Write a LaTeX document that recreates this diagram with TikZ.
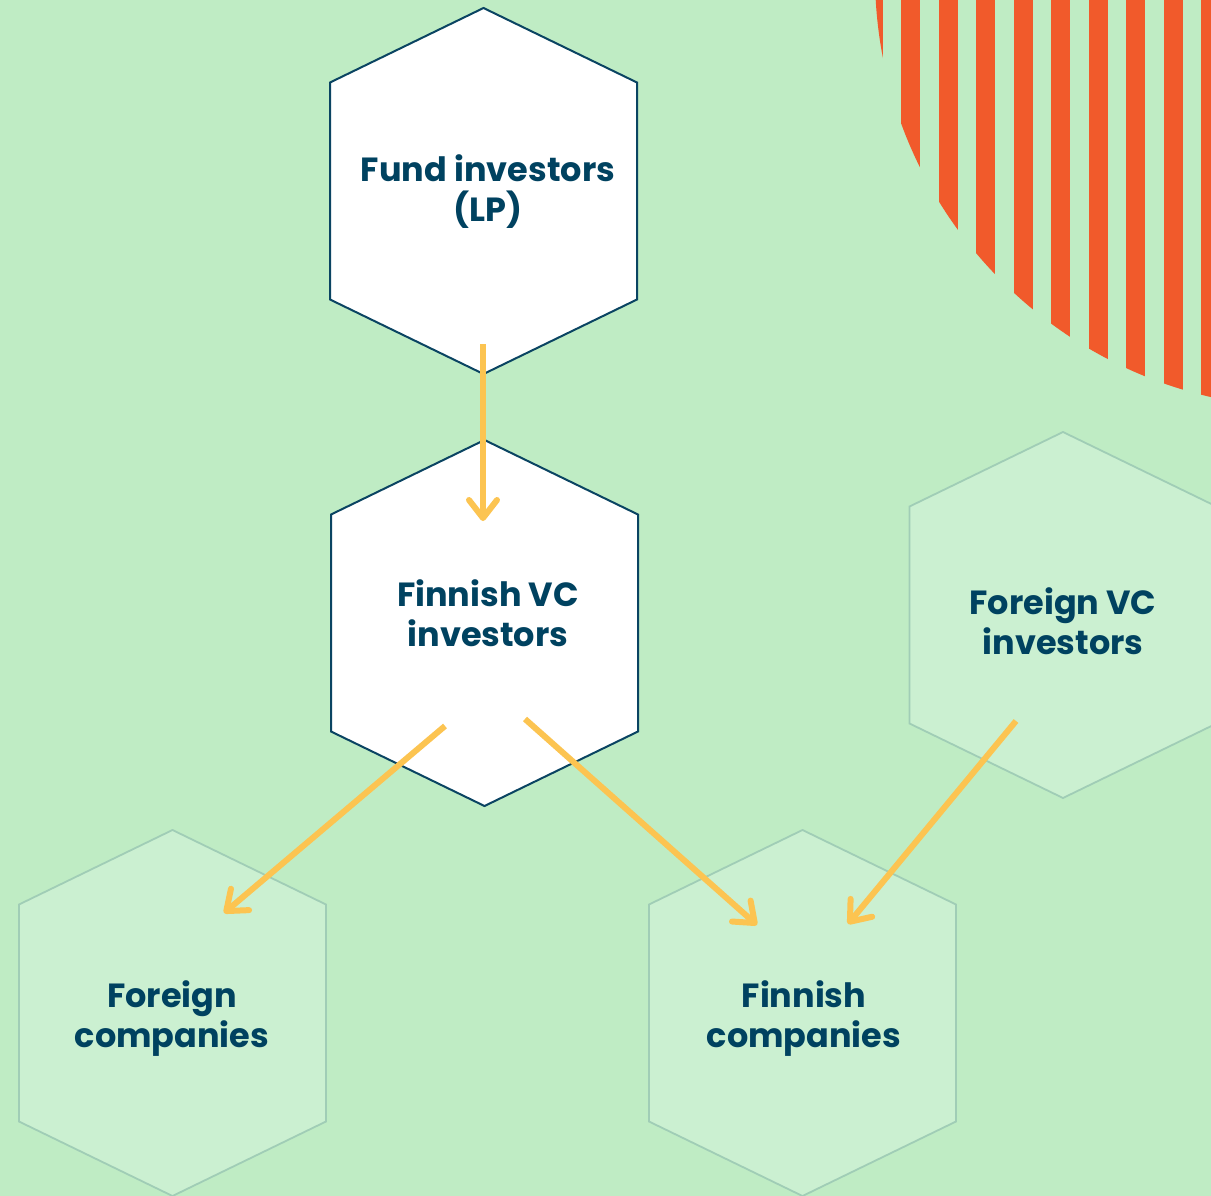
\documentclass[tikz,border=0pt]{standalone}
\usepackage{fontspec}
\setmainfont{Poppins}
\usetikzlibrary{arrows.meta}
\definecolor{bgc}{RGB}{191,236,196}
\definecolor{hexlight}{RGB}{203,240,209}
\definecolor{hexlborder}{RGB}{160,205,182}
\definecolor{hexborder}{RGB}{10,68,98}
\definecolor{txt}{RGB}{0,66,96}
\definecolor{orangec}{RGB}{241,90,43}
\definecolor{arrowc}{RGB}{252,196,81}
\newcommand\myhex[3]{\draw[#1] (#2,#3) -- ++(153.5,74.5) -- ++(0,217) -- ++(-153.5,74.5) -- ++(-153.5,-74.5) -- ++(0,-217) -- cycle;}
\begin{document}
\begin{tikzpicture}[x=1pt,y=-1pt,
  hexw/.style={fill=white,draw=hexborder,line width=2pt,line join=miter},
  hexl/.style={fill=hexlight,draw=hexlborder,line width=1.8pt,line join=miter},
  lbl/.style={align=center,text=txt,inner sep=0pt,font=\fontsize{33.5}{40}\selectfont\bfseries},
  flow/.style={draw=arrowc,line width=6pt,-{Straight Barb[length=18pt,width=28pt,round]}}]
\useasboundingbox (0,0) rectangle (1211,1196);
\clip (0,0) rectangle (1211,1196);
\fill[bgc] (0,0) rectangle (1211,1196);
% striped quarter disc
\begin{scope}
  \clip (1308,-25) circle (433);
  \foreach \i in {0,...,9} \fill[orangec] ({863.5+37.5*\i},-5) rectangle ++(19,440);
\end{scope}
% hexagons
\myhex{hexw}{483.5}{8}
\myhex{hexw}{484.5}{440}
\myhex{hexl}{1063}{432}
\myhex{hexl}{172.5}{830}
\myhex{hexl}{802.5}{830}
% labels
\node[lbl] (fund) at (488,192) {Fund investors\\(LP)};
\node[lbl] (fvc) at (488,613) {Finnish VC\\investors};
\node[lbl] (forvc) at (1063,621) {Foreign VC\\investors};
\node[lbl] (forco) at (172,1019) {Foreign\\companies};
\node[lbl] (finco) at (804,1019) {Finnish\\companies};
% arrow end points
\coordinate (a1s) at (483,344);
\coordinate (a1e) at (483,521);
\coordinate (a2s) at (445,726);
\coordinate (a2e) at (224,913);
\coordinate (a3s) at (525,719);
\coordinate (a3e) at (757,925);
\coordinate (a4s) at (1016,721);
\coordinate (a4e) at (848,924);
\draw[flow] (a1s) -- (a1e);
\draw[flow] (a2s) -- (a2e);
\draw[flow] (a3s) -- (a3e);
\draw[flow] (a4s) -- (a4e);
\end{tikzpicture}
\end{document}
